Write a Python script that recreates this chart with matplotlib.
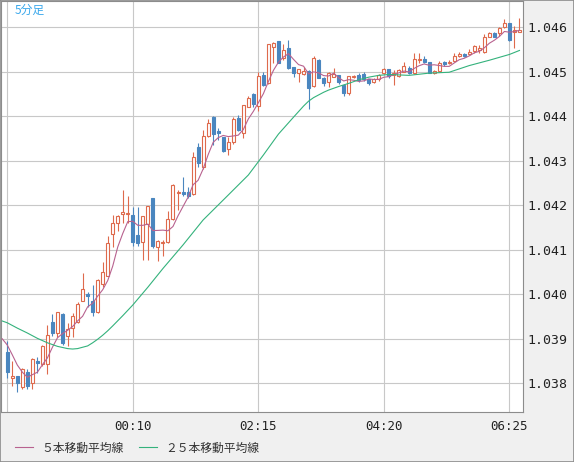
import matplotlib
matplotlib.use("Agg")
import matplotlib.pyplot as plt
import pandas as pd
from matplotlib.patches import Rectangle

# 5分足 OHLC (22:05 - 06:35)
opens = [1.03871, 1.03811, 1.03816, 1.03792, 1.03825, 1.03801, 1.03850, 1.03843, 1.03843, 1.03937,
         1.03914, 1.03955, 1.03906, 1.03924, 1.03938, 1.03986, 1.04000, 1.03986, 1.03960, 1.04023,
         1.04042, 1.04135, 1.04160, 1.04181, 1.04180, 1.04178, 1.04133, 1.04117, 1.04157, 1.04216,
         1.04106, 1.04115, 1.04117, 1.04169, 1.04227, 1.04231, 1.04229, 1.04225, 1.04332, 1.04287,
         1.04356, 1.04399, 1.04367, 1.04353, 1.04326, 1.04343, 1.04396, 1.04362, 1.04422, 1.04449,
         1.04423, 1.04493, 1.04474, 1.04555, 1.04569, 1.04530, 1.04553, 1.04510, 1.04498, 1.04494,
         1.04502, 1.04467, 1.04527, 1.04487, 1.04478, 1.04489, 1.04492, 1.04471, 1.04452, 1.04489,
         1.04492, 1.04494, 1.04483, 1.04478, 1.04483, 1.04497, 1.04506, 1.04493, 1.04490, 1.04500,
         1.04508, 1.04497, 1.04526, 1.04528, 1.04522, 1.04498, 1.04502, 1.04522, 1.04520, 1.04525,
         1.04536, 1.04539, 1.04541, 1.04547, 1.04549, 1.04545, 1.04579, 1.04588, 1.04587, 1.04601,
         1.04609, 1.04590, 1.04590]
highs = [1.03896, 1.03850, 1.03817, 1.03834, 1.03832, 1.03856, 1.03858, 1.03886, 1.03931, 1.03956,
         1.03961, 1.03957, 1.03935, 1.03957, 1.03983, 1.04047, 1.04006, 1.04021, 1.04034, 1.04073,
         1.04131, 1.04178, 1.04178, 1.04234, 1.04221, 1.04196, 1.04196, 1.04177, 1.04199, 1.04216,
         1.04121, 1.04122, 1.04187, 1.04248, 1.04234, 1.04264, 1.04242, 1.04319, 1.04341, 1.04369,
         1.04393, 1.04400, 1.04374, 1.04354, 1.04354, 1.04399, 1.04403, 1.04426, 1.04446, 1.04453,
         1.04500, 1.04500, 1.04563, 1.04568, 1.04570, 1.04562, 1.04571, 1.04511, 1.04507, 1.04510,
         1.04503, 1.04536, 1.04528, 1.04489, 1.04500, 1.04508, 1.04493, 1.04473, 1.04491, 1.04493,
         1.04497, 1.04499, 1.04484, 1.04486, 1.04495, 1.04508, 1.04507, 1.04505, 1.04506, 1.04522,
         1.04512, 1.04542, 1.04543, 1.04536, 1.04523, 1.04504, 1.04525, 1.04524, 1.04527, 1.04542,
         1.04545, 1.04542, 1.04551, 1.04560, 1.04560, 1.04584, 1.04589, 1.04590, 1.04600, 1.04619,
         1.04610, 1.04603, 1.04620]
lows = [1.03812, 1.03794, 1.03781, 1.03788, 1.03787, 1.03787, 1.03823, 1.03839, 1.03822, 1.03906,
        1.03905, 1.03886, 1.03884, 1.03905, 1.03936, 1.03985, 1.03972, 1.03952, 1.03958, 1.04016,
        1.04040, 1.04107, 1.04142, 1.04160, 1.04160, 1.04109, 1.04109, 1.04077, 1.04077, 1.04103,
        1.04075, 1.04085, 1.04116, 1.04168, 1.04189, 1.04220, 1.04216, 1.04224, 1.04287, 1.04281,
        1.04353, 1.04336, 1.04347, 1.04320, 1.04313, 1.04338, 1.04368, 1.04351, 1.04421, 1.04422,
        1.04413, 1.04467, 1.04473, 1.04519, 1.04519, 1.04527, 1.04506, 1.04489, 1.04478, 1.04493,
        1.04416, 1.04466, 1.04485, 1.04467, 1.04465, 1.04488, 1.04473, 1.04446, 1.04448, 1.04487,
        1.04477, 1.04480, 1.04470, 1.04475, 1.04479, 1.04495, 1.04487, 1.04471, 1.04488, 1.04499,
        1.04494, 1.04496, 1.04519, 1.04519, 1.04497, 1.04496, 1.04501, 1.04512, 1.04517, 1.04523,
        1.04533, 1.04533, 1.04538, 1.04542, 1.04543, 1.04542, 1.04578, 1.04578, 1.04581, 1.04599,
        1.04570, 1.04553, 1.04589]
closes = [1.03825, 1.03817, 1.03800, 1.03832, 1.03794, 1.03854, 1.03845, 1.03884, 1.03909, 1.03914,
          1.03960, 1.03891, 1.03921, 1.03951, 1.03978, 1.04012, 1.03997, 1.03961, 1.04032, 1.04049,
          1.04115, 1.04160, 1.04176, 1.04184, 1.04182, 1.04118, 1.04115, 1.04176, 1.04198, 1.04109,
          1.04120, 1.04118, 1.04169, 1.04246, 1.04229, 1.04225, 1.04222, 1.04309, 1.04296, 1.04356,
          1.04386, 1.04360, 1.04362, 1.04321, 1.04343, 1.04393, 1.04369, 1.04425, 1.04440, 1.04428,
          1.04491, 1.04470, 1.04562, 1.04565, 1.04520, 1.04549, 1.04508, 1.04498, 1.04506, 1.04502,
          1.04463, 1.04530, 1.04487, 1.04475, 1.04498, 1.04495, 1.04477, 1.04452, 1.04490, 1.04491,
          1.04482, 1.04483, 1.04474, 1.04483, 1.04493, 1.04506, 1.04490, 1.04497, 1.04503, 1.04512,
          1.04497, 1.04528, 1.04528, 1.04523, 1.04498, 1.04502, 1.04520, 1.04518, 1.04523, 1.04536,
          1.04539, 1.04536, 1.04545, 1.04557, 1.04553, 1.04579, 1.04587, 1.04579, 1.04599, 1.04609,
          1.04571, 1.04594, 1.04594]

# 5本移動平均線: values read at bars -1..3 (earlier bars are off-screen)
ma5_head = [1.03900, 1.03886, 1.03864, 1.03841, 1.03825]
# 25本移動平均線
ma25_bars = [-1, 0, 2, 4, 6, 8, 10, 12, 13, 14, 16, 17, 18, 19, 20, 21, 23, 25, 28, 31,
             35, 39, 44, 48, 51, 54, 57, 59, 60, 61, 62, 63, 64, 66, 68, 70, 72, 74, 76, 78,
             80, 84, 88, 92, 96, 100, 102]
ma25_vals = [1.03940, 1.03936, 1.03924, 1.03913, 1.03901, 1.03891, 1.03883, 1.03878, 1.03877, 1.03878,
             1.03884, 1.03891, 1.03899, 1.03908, 1.03918, 1.03929, 1.03952, 1.03976, 1.04016, 1.04058,
             1.04111, 1.04167, 1.04223, 1.04268, 1.04313, 1.04360, 1.04398, 1.04423, 1.04434, 1.04442,
             1.04448, 1.04454, 1.04459, 1.04467, 1.04474, 1.04482, 1.04488, 1.04492, 1.04494, 1.04493,
             1.04492, 1.04497, 1.04499, 1.04514, 1.04526, 1.04539, 1.04548]

tick_bars = [0, 25, 50, 75, 100]
tick_labels = ['', '00:10', '02:15', '04:20', '06:25']
price_ticks = [1.038, 1.039, 1.040, 1.041, 1.042, 1.043, 1.044, 1.045, 1.046]

RED = '#de6a4c'
BLUE = '#4a86bf'
MA5_COLOR = '#b8628f'
MA25_COLOR = '#34b27c'
JP = ['Noto Sans CJK JP', 'DejaVu Sans']

W, H = 574, 462
fig = plt.figure(figsize=(W / 100, H / 100), dpi=100, facecolor='#f0f0f0')
ax = fig.add_axes([1 / W, 50 / H, 522 / W, 411 / H], facecolor='white')

idx = list(range(len(opens)))
up = [c >= o for o, c in zip(opens, closes)]
colors = [RED if u else BLUE for u in up]
faces = ['white' if u else BLUE for u in up]
bottoms = [min(o, c) for o, c in zip(opens, closes)]
heights = [abs(c - o) for o, c in zip(opens, closes)]

ax.vlines(idx, lows, highs, colors=colors, linewidth=0.8, zorder=2)
ax.bar(idx, heights, bottom=bottoms, width=0.6, color=faces, edgecolor=colors,
       linewidth=0.8, zorder=3)

# moving averages
ma5 = pd.Series(closes).rolling(5).mean().tolist()
ma5_x = [-1] + idx
ma5_y = ma5_head + ma5[4:]
l5, = ax.plot(ma5_x, ma5_y, color=MA5_COLOR, linewidth=0.8, zorder=4)
l25, = ax.plot(ma25_bars, ma25_vals, color=MA25_COLOR, linewidth=0.8, zorder=4)

ax.set_xlim(-1.25, 102.7)
ax.set_ylim(1.037355, 1.046591)

ax.set_xticks(tick_bars)
ax.set_xticklabels(tick_labels, fontfamily='DejaVu Sans Mono', fontsize=9, color='#222222')
ax.set_yticks(price_ticks)
ax.set_yticklabels(['%.3f' % p for p in price_ticks], fontfamily='DejaVu Sans Mono',
                   fontsize=9.5, color='#222222')
ax.yaxis.tick_right()
ax.tick_params(axis='both', length=0)
ax.tick_params(axis='y', pad=3)
ax.tick_params(axis='x', pad=6)
ax.grid(True, color='#c8c8c8', linewidth=0.8)
ax.set_axisbelow(True)
for s in ax.spines.values():
    s.set_color('#8c8c8c')
    s.set_linewidth(0.8)

ax.text(14 / 522, 1 - 3 / 411, '5分足', transform=ax.transAxes, ha='left', va='top',
        fontsize=8.5, color='#3aa8ec', family=JP)

fig.legend([l5, l25], ['５本移動平均線', '２５本移動平均線'], loc='center left',
           bbox_to_anchor=(15 / W, 14 / H), ncol=2, frameon=False,
           prop={'family': JP, 'size': 8.5}, handlelength=1.55, handletextpad=0.7,
           columnspacing=1.3, borderpad=0, borderaxespad=0, labelcolor='#333333')

fig.add_artist(Rectangle((0, 0), 1, 1, transform=fig.transFigure, fill=False,
                         edgecolor='#8c8c8c', linewidth=1.2))

fig.savefig('out.png', dpi=100, facecolor=fig.get_facecolor())
